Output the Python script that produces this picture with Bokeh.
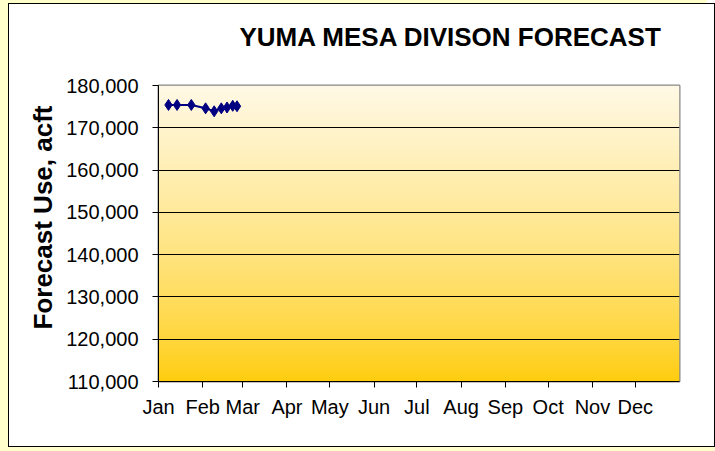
import numpy as np
import pandas as pd
from bokeh.plotting import figure
from bokeh.models import FixedTicker, NumeralTickFormatter, Range1d, Title
from bokeh.embed import file_html
from bokeh.resources import INLINE

# ---- data ----
dates = ["2009-01-08", "2009-01-14", "2009-01-24", "2009-02-03", "2009-02-09",
         "2009-02-14", "2009-02-18", "2009-02-22", "2009-02-25"]
forecast = [175400, 175400, 175400, 174600, 173900, 174600, 174800, 175200, 175100]
month_labels = ["Jan", "Feb", "Mar", "Apr", "May", "Jun", "Jul", "Aug", "Sep", "Oct", "Nov", "Dec"]
y_ticks = [110000, 120000, 130000, 140000, 150000, 160000, 170000, 180000]
title_text = "YUMA MESA DIVISON FORECAST"
y_label = "Forecast Use, acft"

x = pd.to_datetime(dates)
month_starts = pd.date_range("2009-01-01", periods=12, freq="MS")
tick_ms = [float(t.value // 10**6) for t in month_starts]
x_start = pd.Timestamp("2009-01-01")
x_end = pd.Timestamp("2010-01-01")

p = figure(x_axis_type="datetime", output_backend="svg", toolbar_location=None,
           frame_width=521, frame_height=296,
           min_border_left=149, min_border_right=35, min_border_top=81, min_border_bottom=65,
           x_range=Range1d(x_start, x_end), y_range=Range1d(y_ticks[0], y_ticks[-1]))
p.background_fill_color = "#FFF9E6"
p.border_fill_color = "white"
p.outline_line_color = "#888888"
p.outline_line_width = 2

# gradient background
n = 296
t = np.linspace(0, 1, n) ** 0.75
top = np.array([255, 249, 230])
bot = np.array([255, 204, 10])
img = np.zeros((n, 1), dtype=np.uint32)
view = img.view(dtype=np.uint8).reshape((n, 1, 4))
for i in range(n):
    c = bot + (top - bot) * t[i]
    view[i, 0, 0] = int(c[0]); view[i, 0, 1] = int(c[1]); view[i, 0, 2] = int(c[2]); view[i, 0, 3] = 255
p.image_rgba(image=[img], x=x_start, y=y_ticks[0], dw=(x_end - x_start).total_seconds() * 1000,
             dh=y_ticks[-1] - y_ticks[0], level="image")

p.line(x, forecast, line_color="#000080", line_width=2)
p.scatter(x, forecast, marker="diamond", size=11, fill_color="#000080", line_color="#000080")

# axes
p.xaxis.ticker = FixedTicker(ticks=tick_ms)
p.xaxis.major_label_overrides = {tk: lab for tk, lab in zip(tick_ms, month_labels)}
p.yaxis.ticker = FixedTicker(ticks=y_ticks)
p.yaxis.formatter = NumeralTickFormatter(format="0,0")
for ax in (p.xaxis, p.yaxis):
    ax.axis_line_color = "black"
    ax.major_tick_line_color = "black"
    ax.major_tick_out = 6
    ax.major_tick_in = 0
    ax.minor_tick_line_color = None
    ax.major_label_text_font = "Liberation Sans"
    ax.major_label_text_font_size = "20px"
    ax.major_label_text_color = "black"
p.xaxis.major_label_standoff = 8
p.yaxis.major_label_standoff = 14

p.xgrid.grid_line_color = None
p.ygrid.ticker = FixedTicker(ticks=y_ticks)
p.ygrid.grid_line_color = "black"
p.ygrid.grid_line_width = 1

p.title.text = ""
# spacer between the frame and the main title
p.add_layout(Title(text=" ", text_font_size="1px", standoff=13), "above")
p.add_layout(Title(text=title_text, align="left", vertical_align="top", offset=81, standoff=31,
                   text_font="Liberation Sans", text_font_style="bold",
                   text_font_size="26px", text_color="black"), "above")

p.add_layout(Title(text=y_label, align="left", offset=52, standoff=12,
                   text_font="Liberation Sans", text_font_style="bold",
                   text_font_size="26px", text_color="black"), "left")

p.styles = {"border": "1px solid black", "margin-left": "8px", "margin-top": "3px",
            "box-shadow": "-8px -3px 0 0 #FFFFCC, -8px 5px 0 0 #FFFFCC, 0 5px 0 0 #FFFFCC"}

open("out.html", "w").write(file_html(p, INLINE))
